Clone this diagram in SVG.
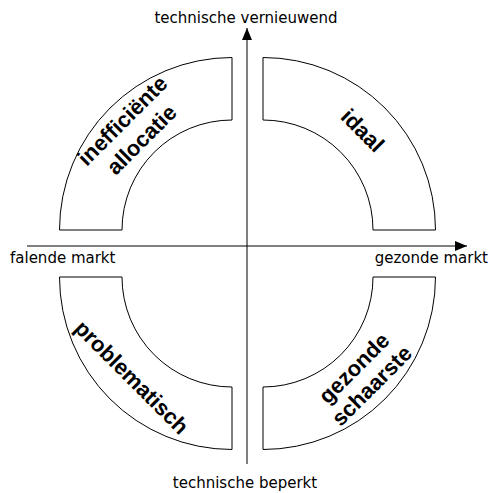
<svg xmlns="http://www.w3.org/2000/svg" width="490" height="493" viewBox="0 0 490 493">
<style>
.q{fill:#fff;stroke:#000;stroke-width:1}
.lbl{font-family:"Liberation Sans",Arial,sans-serif;font-weight:bold;font-size:22px;text-anchor:middle;fill:#000}
.ax{font-family:"DejaVu Sans",Tahoma,sans-serif;font-size:15px;fill:#000}
.axl{stroke:#000;stroke-width:1;fill:none}
</style>
<defs>
<marker id="ah" viewBox="0 0 12 10" refX="12" refY="5" markerWidth="12" markerHeight="10" markerUnits="userSpaceOnUse" orient="auto">
<path d="M0,0 L12,5 L0,10 Z" fill="#000"/>
</marker>
</defs>
<rect width="490" height="493" fill="#fff"/>
<g id="connectors">
<line class="axl" x1="247" y1="464" x2="247" y2="28" marker-end="url(#ah)"/>
<line class="axl" x1="27" y1="246" x2="467" y2="246" marker-end="url(#ah)"/>
</g>
<g id="inefficiente-allocatie">
<path class="q" d="M59.5,230 A172.5,172.5 0 0 1 232,57.5 L232,120 A110,110 0 0 0 122,230 Z"/>
<g transform="translate(132.1,130.1) rotate(-45)">
<text class="lbl" x="0" y="-6">inefficiënte</text>
<text class="lbl" x="0" y="21">allocatie</text>
</g>
</g>
<g id="idaal">
<path class="q" d="M263,57.5 A172.5,172.5 0 0 1 435.5,230 L373,230 A110,110 0 0 0 263,120 Z"/>
<text class="lbl" transform="translate(362.9,130.1) rotate(45)" x="0" y="8">idaal</text>
</g>
<g id="problematisch">
<path class="q" d="M59.5,277 A172.5,172.5 0 0 0 232,449.5 L232,387 A110,110 0 0 1 122,277 Z"/>
<text class="lbl" transform="translate(132.1,376.9) rotate(45)" x="0" y="8">problematisch</text>
</g>
<g id="gezonde-schaarste">
<path class="q" d="M263,449.5 A172.5,172.5 0 0 0 435.5,277 L373,277 A110,110 0 0 1 263,387 Z"/>
<g transform="translate(362.9,376.9) rotate(-45)">
<text class="lbl" x="0" y="-5">gezonde</text>
<text class="lbl" x="0" y="20">schaarste</text>
</g>
</g>
<g id="axis-labels">
<text class="ax" x="246" y="23" text-anchor="middle">technische vernieuwend</text>
<text class="ax" x="245" y="488" text-anchor="middle">technische beperkt</text>
<text class="ax" x="10" y="263">falende markt</text>
<text class="ax" x="488" y="263" text-anchor="end">gezonde markt</text>
</g>
</svg>
